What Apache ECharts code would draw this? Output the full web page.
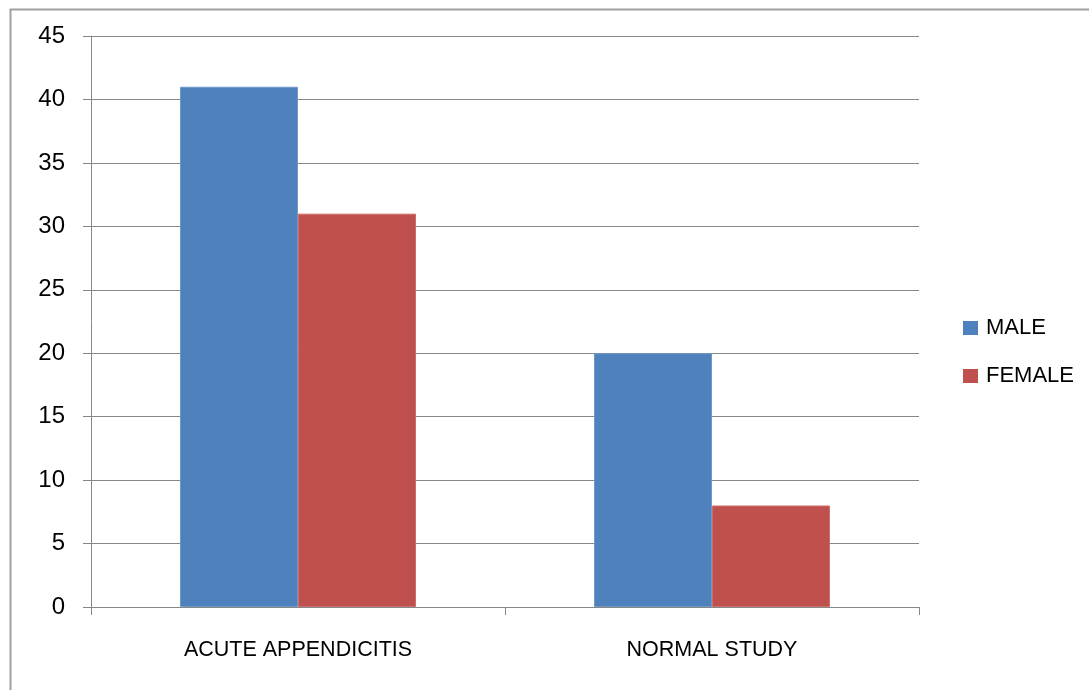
<!DOCTYPE html>
<html>
<head>
<meta charset="utf-8">
<script src="https://cdn.jsdelivr.net/npm/echarts@6/dist/echarts.min.js"></script>
<style>
  html, body { margin: 0; padding: 0; background: #ffffff; }
  #chart { width: 1089px; height: 690px; }
</style>
</head>
<body>
<div id="chart"></div>
<script>
// Diagnosis outcome by sex
const categories = ['ACUTE APPENDICITIS', 'NORMAL STUDY'];
const maleValues = [41, 20];
const femaleValues = [31, 8];
const seriesNames = ['MALE', 'FEMALE'];
const yTicks = { min: 0, max: 45, interval: 5 };

const FONT = 'Liberation Sans, Arial, sans-serif';
const AXIS_GRAY = '#878787';

const chart = echarts.init(document.getElementById('chart'), null, { renderer: 'canvas' });

chart.setOption({
  backgroundColor: '#ffffff',
  animation: false,
  graphic: [{
    type: 'rect',
    left: 8,
    top: 7,
    shape: { width: 1200, height: 800 },
    style: { fill: 'none', stroke: '#a0a0a0', lineWidth: 2 },
    silent: true,
    z: -1
  }],
  grid: { left: 91, right: 170, top: 36, bottom: 83, containLabel: false },
  legend: {
    orient: 'vertical',
    left: 963,
    top: 317,
    padding: 0,
    itemWidth: 15,
    itemHeight: 14,
    itemGap: 26,
    icon: 'rect',
    data: seriesNames,
    itemStyle: { borderWidth: 0 },
    textStyle: { fontFamily: FONT, fontSize: 22, color: '#000', padding: [0, 0, 0, 3] }
  },
  xAxis: {
    type: 'category',
    data: categories,
    axisLine: { lineStyle: { color: AXIS_GRAY, width: 1 } },
    axisTick: { show: true, length: 8, lineStyle: { color: AXIS_GRAY } },
    axisLabel: { margin: 32, fontFamily: FONT, fontSize: 21.5, color: '#000' }
  },
  yAxis: {
    type: 'value',
    min: yTicks.min,
    max: yTicks.max,
    interval: yTicks.interval,
    axisLine: { show: true, lineStyle: { color: AXIS_GRAY, width: 1 } },
    axisTick: { show: true, length: 8, lineStyle: { color: AXIS_GRAY } },
    splitLine: { show: true, lineStyle: { color: AXIS_GRAY, width: 1 } },
    axisLabel: { margin: 26, fontFamily: FONT, fontSize: 24, color: '#000' }
  },
  series: [
    {
      name: seriesNames[0],
      type: 'bar',
      data: maleValues,
      barCategoryGap: '43%',
      barGap: '0%',
      itemStyle: { color: '#4F81BD', borderColor: '#6f98c9', borderWidth: 1 }
    },
    {
      name: seriesNames[1],
      type: 'bar',
      data: femaleValues,
      barCategoryGap: '43%',
      barGap: '0%',
      itemStyle: { color: '#C0504D', borderColor: '#cc6e6b', borderWidth: 1 }
    }
  ]
});
</script>
</body>
</html>
